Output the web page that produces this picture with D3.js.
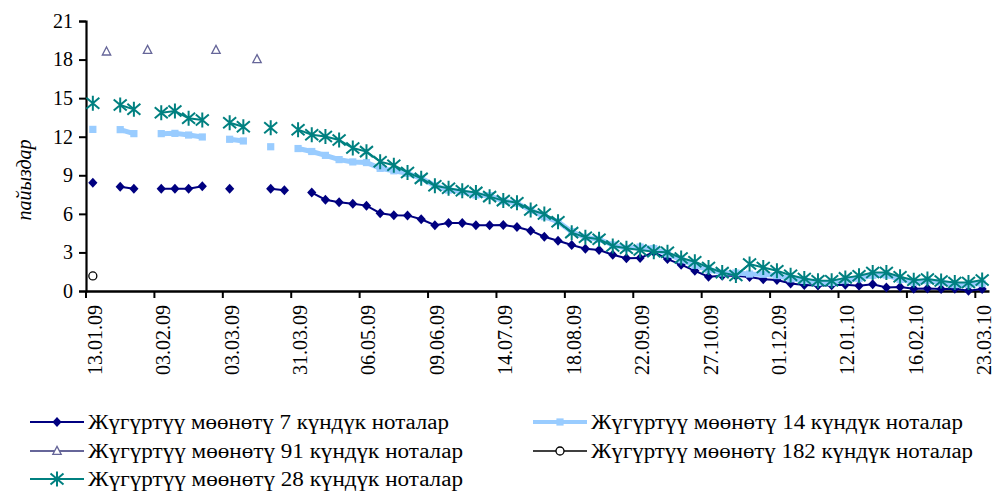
<!DOCTYPE html>
<html>
<head>
<meta charset="utf-8">
<script src="https://cdn.jsdelivr.net/npm/d3@7"></script>
<style>
  body { margin: 0; background: #fff; }
  svg { display: block; font-family: "Liberation Serif", "Times New Roman", serif; }
</style>
</head>
<body>
<div id="result"></div>
<script>
// auction dates (category axis), one label every 5 categories
const dates = [
  '13.01.09','16.01.09','20.01.09','23.01.09','27.01.09','03.02.09','06.02.09','10.02.09','13.02.09','24.02.09',
  '03.03.09','06.03.09','10.03.09','17.03.09','24.03.09','31.03.09','07.04.09','14.04.09','21.04.09','28.04.09',
  '06.05.09','12.05.09','19.05.09','26.05.09','02.06.09','09.06.09','16.06.09','23.06.09','30.06.09','07.07.09',
  '14.07.09','21.07.09','28.07.09','04.08.09','11.08.09','18.08.09','25.08.09','01.09.09','08.09.09','15.09.09',
  '22.09.09','29.09.09','06.10.09','13.10.09','20.10.09','27.10.09','03.11.09','10.11.09','17.11.09','24.11.09',
  '01.12.09','08.12.09','15.12.09','22.12.09','29.12.09','12.01.10','19.01.10','26.01.10','02.02.10','09.02.10',
  '16.02.10','23.02.10','02.03.10','09.03.10','16.03.10','23.03.10'
];
const tickDates = ['13.01.09','03.02.09','03.03.09','31.03.09','06.05.09','09.06.09','14.07.09',
  '18.08.09','22.09.09','27.10.09','01.12.09','12.01.10','16.02.10','23.03.10'];
const yTicks = [0, 3, 6, 9, 12, 15, 18, 21];

const s7 = [8.42,null,8.11,7.96,null,7.96,7.96,7.96,8.15,null,
  7.96,null,null,7.96,7.84,null,7.66,7.1,6.91,6.78,
  6.64,6.05,5.9,5.88,5.58,5.12,5.28,5.29,5.11,5.11,
  5.13,4.98,4.69,4.22,3.91,3.58,3.29,3.19,2.82,2.55,
  2.56,3.03,2.48,2.05,1.57,1.11,1.18,1.18,1.09,0.92,
  0.86,0.58,0.47,0.42,0.45,0.48,0.41,0.52,0.28,0.32,
  0.17,0.2,0.15,0.17,0.02,0.15];
const s14 = [12.57,null,12.55,12.24,null,12.24,12.26,12.13,11.98,null,
  11.8,11.67,null,11.22,null,11.08,10.85,10.55,10.22,10.04,
  9.99,9.54,9.35,9.15,8.76,8.2,7.85,7.73,7.47,7.41,
  7.0,6.82,6.3,5.78,5.39,4.61,4.18,4.02,3.58,3.32,
  3.42,3.3,2.88,2.43,2.0,1.65,1.4,1.4,1.32,1.3,
  1.2,0.95,0.82,0.66,0.66,0.84,0.97,1.22,1.24,0.9,
  0.67,0.8,0.68,0.5,0.5,0.58];
const s91 = [null,18.62,null,null,18.75,null,null,null,null,18.75,
  null,null,18.03];
const s182 = [1.17];
const s28 = [14.6,null,14.47,14.13,null,13.87,14.0,13.43,13.3,null,
  13.09,12.78,null,12.7,null,12.55,12.16,12.02,11.74,11.12,
  10.84,10.06,9.78,9.22,8.76,8.18,8.0,7.8,7.67,7.34,
  7.03,6.87,6.3,5.99,5.39,4.54,4.18,4.02,3.5,3.32,
  3.19,3.06,3.01,2.57,2.28,1.83,1.43,1.2,2.1,1.83,
  1.58,1.23,0.97,0.8,0.8,1.02,1.18,1.44,1.44,1.11,
  0.84,0.93,0.78,0.66,0.66,0.86];

const seriesNames = [
  'Жүгүртүү мөөнөтү 7 күндүк ноталар',
  'Жүгүртүү мөөнөтү 14 күндүк ноталар',
  'Жүгүртүү мөөнөтү 91 күндүк ноталар',
  'Жүгүртүү мөөнөтү 182 күндүк ноталар',
  'Жүгүртүү мөөнөтү 28 күндүк ноталар'
];

const width = 994;
const height = 491;

const svg = d3.select('#result')
  .append('svg')
  .attr('width', width)
  .attr('height', height);

const x = d3.scaleBand()
  .domain(dates)
  .range([86, 989])
  .padding(0);

const y = d3.scaleLinear()
  .domain([0, 21])
  .range([291, 21]);

// marker shapes, drawn around (0,0)
const markers = {
  diamond: g => g.append('path').attr('d', 'M0,-5L4.6,0L0,5L-4.6,0Z')
    .attr('fill', '#000080').attr('stroke', 'none'),
  square: g => g.append('rect').attr('x', -3.6).attr('y', -3.6)
    .attr('width', 7.2).attr('height', 7.2)
    .attr('fill', '#99ccff').attr('stroke', 'none'),
  triangle: g => g.append('path').attr('d', 'M0,-4.6L4.2,3.4L-4.2,3.4Z')
    .attr('fill', '#fff').attr('stroke', '#666699').attr('stroke-width', 1.3),
  circle: g => g.append('circle').attr('r', 4)
    .attr('fill', '#fff').attr('stroke', '#000').attr('stroke-width', 1.3),
  star: g => g.append('path')
    .attr('d', 'M0,-7.5V7.5M-6.5,-5.5L6.5,5.5M-6.5,5.5L6.5,-5.5')
    .attr('fill', 'none').attr('stroke', '#008080').attr('stroke-width', 2)
};

const series = [
  { name: seriesNames[0], values: s7, color: '#000080', lw: 2, marker: 'diamond' },
  { name: seriesNames[1], values: s14, color: '#99ccff', lw: 5, marker: 'square' },
  { name: seriesNames[2], values: s91, color: '#666699', lw: 2, marker: 'triangle' },
  { name: seriesNames[3], values: s182, color: '#000000', lw: 1.5, marker: 'circle' },
  { name: seriesNames[4], values: s28, color: '#008080', lw: 2, marker: 'star' }
];

// y axis
const yAxis = svg.append('g')
  .attr('transform', 'translate(86,0)')
  .call(d3.axisLeft(y).tickValues(yTicks).tickSize(7).tickPadding(6));
yAxis.select('.domain').attr('stroke', '#000').attr('stroke-width', 2.2);
yAxis.selectAll('.tick line').attr('stroke', '#000').attr('stroke-width', 2);
yAxis.selectAll('.tick text')
  .attr('fill', '#000')
  .style('font-size', '20px')
  .style('font-family', '"Liberation Serif", serif');

svg.append('text')
  .attr('transform', 'translate(31,180) rotate(-90)')
  .attr('text-anchor', 'middle')
  .style('font-size', '20px')
  .style('font-style', 'italic')
  .text('пайыздар');

// x axis: tick marks on category boundaries, labels at category centres
const xAxis = svg.append('g')
  .attr('transform', 'translate(0,291)')
  .call(d3.axisBottom(x).tickValues(tickDates).tickSize(7).tickSizeOuter(0));
xAxis.select('.domain').attr('stroke', '#000').attr('stroke-width', 2.6);
xAxis.selectAll('.tick line')
  .attr('stroke', '#000').attr('stroke-width', 2)
  .attr('x1', -x.bandwidth() / 2).attr('x2', -x.bandwidth() / 2);
xAxis.selectAll('.tick text')
  .attr('fill', '#000')
  .style('font-size', '20px')
  .style('font-family', '"Liberation Serif", serif')
  .attr('text-anchor', 'end')
  .attr('transform', 'rotate(-90)')
  .attr('x', -14)
  .attr('y', 2)
  .attr('dy', '0.35em');

// series lines and markers
const plot = svg.append('g');
series.forEach(s => {
  const pts = dates.map((d, i) => ({ d: d, v: s.values[i] === undefined ? null : s.values[i] }));
  const line = d3.line()
    .defined(p => p.v !== null)
    .x(p => x(p.d) + x.bandwidth() / 2)
    .y(p => y(p.v));

  plot.append('path')
    .datum(pts)
    .attr('fill', 'none')
    .attr('stroke', s.color)
    .attr('stroke-width', s.lw)
    .attr('d', line);

  plot.append('g')
    .selectAll('g')
    .data(pts.filter(p => p.v !== null))
    .enter()
    .append('g')
      .attr('transform', p => `translate(${x(p.d) + x.bandwidth() / 2},${y(p.v)})`)
      .each(function () { markers[s.marker](d3.select(this)); });
});

// legend, two columns, row by row (text widths as in the original)
const legendPos = [
  { x: 30, y: 422, w: 361 }, { x: 533, y: 422, w: 372 },
  { x: 30, y: 451, w: 375 }, { x: 533, y: 451, w: 382 },
  { x: 30, y: 479, w: 375 }
];
const legend = svg.append('g');
series.forEach((s, i) => {
  const p = legendPos[i];
  const item = legend.append('g').attr('transform', `translate(${p.x},${p.y})`);
  item.append('line')
    .attr('x1', 0).attr('x2', 54)
    .attr('stroke', s.color)
    .attr('stroke-width', Math.min(s.lw, 4));
  markers[s.marker](item.append('g').attr('transform', 'translate(27,0)'));
  item.append('text')
    .attr('x', 58)
    .attr('dy', '0.33em')
    .attr('textLength', p.w)
    .attr('lengthAdjust', 'spacingAndGlyphs')
    .style('font-size', '20px')
    .text(s.name);
});
</script>
</body>
</html>
